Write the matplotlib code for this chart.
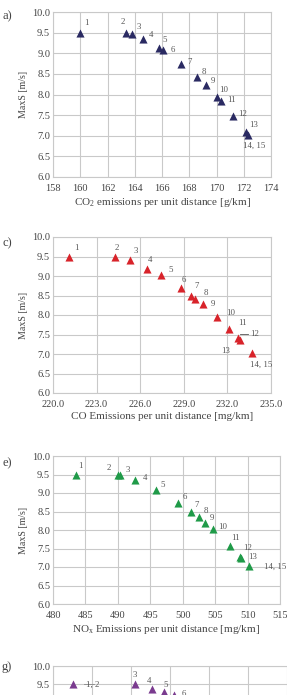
import matplotlib
matplotlib.use('Agg')
import matplotlib.pyplot as plt

plt.rcParams['font.family'] = ['Liberation Serif', 'DejaVu Serif']
plt.rcParams['mathtext.fontset'] = 'custom'
plt.rcParams['mathtext.rm'] = 'Liberation Serif'
plt.rcParams['mathtext.default'] = 'regular'

W, H = 287, 695

# --- data ---
point_labels = ['1', '2', '3', '4', '5', '6', '7', '8', '9', '10',
                '11', '12', '13', '14, 15']

# a) CO2 [g/km]
co2_x = [160.0, 163.35, 163.8, 164.6, 165.8, 166.05, 167.4, 168.55, 169.2,
         170.05, 170.3, 171.2, 172.15, 172.3]
co2_y = [9.5, 9.5, 9.46, 9.35, 9.12, 9.07, 8.75, 8.43, 8.23,
         7.93, 7.85, 7.49, 7.08, 7.03]
co2_xticks = [158, 160, 162, 164, 166, 168, 170, 172, 174]

# c) CO [mg/km]
co_x = [221.1, 224.3, 225.3, 226.5, 227.4, 228.8, 229.5, 229.8, 230.3,
        231.3, 232.1, 232.7, 232.85, 233.7]
co_y = [9.5, 9.5, 9.4, 9.19, 9.03, 8.7, 8.49, 8.41, 8.28,
        7.95, 7.63, 7.41, 7.36, 7.03]
co_xticks = [220.0, 223.0, 226.0, 229.0, 232.0, 235.0]

# e) NOx [mg/km]
nox_x = [483.5, 489.95, 490.4, 492.7, 495.9, 499.2, 501.3, 502.5, 503.5,
         504.6, 507.3, 508.9, 509.0, 510.2]
nox_y = [9.5, 9.5, 9.5, 9.35, 9.08, 8.74, 8.49, 8.34, 8.18,
         8.02, 7.57, 7.28, 7.24, 7.03]
nox_xticks = [480, 485, 490, 495, 500, 505, 510, 515]

# g) only the top of this panel is visible
g_labels = ['1, 2', '3', '4', '5', '6']
g_x = [0.5, 2.1, 2.55, 2.85, 3.1]
g_y = [9.5, 9.51, 9.37, 9.29, 9.2]
g_xticks = [0, 1, 2, 3, 4, 5, 6]

y_ticks = [6.0, 6.5, 7.0, 7.5, 8.0, 8.5, 9.0, 9.5, 10.0]

# label offsets in pixels (dx, dy) for each point
off_a = [(6, 10), (-3, 11), (7, 7), (8, 4), (5, 8), (10, 0), (8, 2), (7, 5),
         (7, 4), (6, 7), (11, 1), (10, 2), (8, 7), (6, -11)]
off_c = [(7, 8), (1, 9), (6, 9), (3, 9), (10, 5), (3, 8), (5, 10), (10, 6),
         (10, 0), (13, 4), (14, 6), (17, 4), (-14, -11), (9, -12)]
off_e = [(5, 9), (-9, 6), (7, 4), (10, 2), (7, 5), (7, 6), (5, 7), (7, 6),
         (7, 5), (10, 2), (5, 8), (7, 9), (12, 1), (26, -1)]
off_g = [(20, -1), (0, 9), (-3, 8), (2, 7), (10, 1)]

GRID = '#c9c9c9'
TXT = '#444444'


def make_axes(fig, left, top, right, bottom):
    return fig.add_axes([left / W, 1 - bottom / H, (right - left) / W, (bottom - top) / H])


def style_axes(ax, xticks, xfmt):
    ax.set_xlim(xticks[0], xticks[-1])
    ax.set_ylim(6.0, 10.0)
    ax.set_xticks(xticks)
    ax.set_yticks(y_ticks)
    ax.set_xticklabels([xfmt.format(t) for t in xticks])
    ax.set_yticklabels(['{:.1f}'.format(t) for t in y_ticks])
    ax.grid(True, color=GRID, linewidth=0.8)
    ax.set_axisbelow(True)
    for s in ax.spines.values():
        s.set_color(GRID)
        s.set_linewidth(0.8)
    ax.tick_params(length=0, labelsize=7.5, labelcolor=TXT)
    ax.tick_params(axis='x', pad=5)
    ax.tick_params(axis='y', pad=2)
    ax.set_ylabel('MaxS [m/s]', fontsize=7.2, color=TXT, labelpad=3)


def draw_points(ax, xs, ys, labels, offsets, color):
    ax.scatter(xs, ys, marker='^', s=34, color=color, zorder=3, linewidths=0)
    for x, y, lab, (dx, dy) in zip(xs, ys, labels, offsets):
        ax.annotate(lab, (x, y), xytext=(dx, dy), textcoords='offset pixels',
                    ha='center', va='center', fontsize=6.3, color='#555555')


fig = plt.figure(figsize=(W / 100, H / 100), dpi=100)

# a) CO2
ax_a = make_axes(fig, 53, 12, 271, 177)
style_axes(ax_a, co2_xticks, '{:d}')
draw_points(ax_a, co2_x, co2_y, point_labels, off_a, '#2a2a62')
ax_a.set_xlabel('CO$_2$ emissions per unit distance [g/km]', fontsize=8, color=TXT, labelpad=2)

# c) CO
ax_c = make_axes(fig, 53, 237, 271, 393)
style_axes(ax_c, co_xticks, '{:.1f}')
draw_points(ax_c, co_x, co_y, point_labels, off_c, '#d8232a')
ax_c.plot([co_x[11] + 0.15, co_x[11] + 0.7], [co_y[11] + 0.1, co_y[11] + 0.1],
          color='#555555', linewidth=0.6)
ax_c.set_xlabel('CO Emissions per unit distance [mg/km]', fontsize=8, color=TXT, labelpad=2)

# e) NOx
ax_e = make_axes(fig, 53, 456, 280, 604)
style_axes(ax_e, nox_xticks, '{:d}')
draw_points(ax_e, nox_x, nox_y, point_labels, off_e, '#1f9a48')
ax_e.set_xlabel('NO$_x$ Emissions per unit distance [mg/km]', fontsize=8, color=TXT, labelpad=2)

# g) cut off at the bottom of the picture
ax_g = make_axes(fig, 53, 666, 287, 810)
style_axes(ax_g, g_xticks, '{:d}')
ax_g.tick_params(axis='x', labelbottom=False)
ax_g.set_ylabel('')
draw_points(ax_g, g_x, g_y, g_labels, off_g, '#7a3b8f')
ax_g.plot([g_x[0] + 0.3, g_x[0] + 0.55], [9.5, 9.5], color='#888888', linewidth=0.6)
ax_g.spines['right'].set_visible(False)

# panel letters
for lab, y in [('a)', 16), ('c)', 243), ('e)', 463), ('g)', 667)]:
    fig.text(7 / W, 1 - y / H, lab, fontsize=9, color=TXT, ha='center', va='center')

fig.savefig('out.png', dpi=100)
